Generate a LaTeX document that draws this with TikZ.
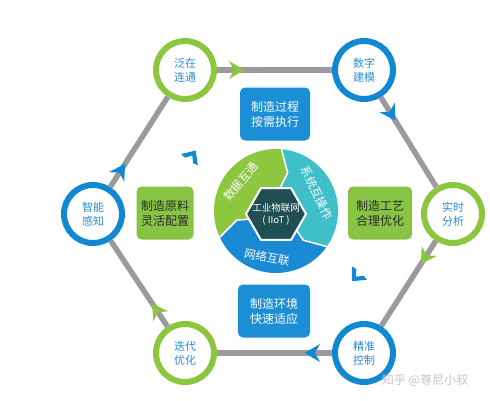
\documentclass[tikz,border=0pt]{standalone}
\usepackage{fontspec}
\setmainfont{Noto Sans CJK SC}
\usetikzlibrary{decorations.markings,calc}
\definecolor{cgreen}{HTML}{8CC63F}
\definecolor{cblue}{HTML}{1088D2}
\definecolor{cboxg}{HTML}{88C443}
\definecolor{cboxb}{HTML}{1B8ED6}
\definecolor{cteal}{HTML}{3FBFCA}
\definecolor{csegg}{HTML}{8DC63F}
\definecolor{csegb}{HTML}{1A8AD4}
\definecolor{chex}{HTML}{1F4F52}
\definecolor{cgray}{HTML}{9C9A9C}
\definecolor{ctext}{HTML}{2B8CCF}
\definecolor{cdark}{HTML}{2B2B2B}
\definecolor{cwm}{HTML}{C4C4C4}
\begin{document}
\begin{tikzpicture}[x=1pt,y=1pt,
  ring/.style={circle, minimum size=58pt, line width=6pt, fill=white, align=center,
    font=\fontsize{11}{14}\selectfont, text=ctext, inner sep=0pt},
  gring/.style={ring, draw=cgreen},
  bring/.style={ring, draw=cblue},
  boxbase/.style={rounded corners=5pt, align=center, font=\fontsize{12}{15}\selectfont,
    inner sep=0pt, minimum height=53pt},
  gbox/.style={boxbase, fill=cboxg, text=cdark},
  bbox/.style={boxbase, fill=cboxb, text=white},
  link/.style={draw=cgray, line width=5.5pt},
  chevg/.style={postaction={decorate, decoration={markings, mark=at position 19pt with
    {\fill[cgreen] (8.5,0) -- (-7,9) -- (-2,0) -- (-7,-9) -- cycle;}}}},
  chevb/.style={postaction={decorate, decoration={markings, mark=at position 19pt with
    {\fill[cblue] (8.5,0) -- (-7,9) -- (-2,0) -- (-7,-9) -- cycle;}}}},
  segtext/.style={text=white, font=\fontsize{11.5}{13}\selectfont, inner sep=0pt},
  seg/.style={draw=white, line width=1.5pt}
]
\useasboundingbox (0,0) rectangle (490,400);

% outer circles
\node[gring] (A) at (185,330) {泛在\\连通};
\node[bring] (B) at (364,330) {数字\\建模};
\node[gring] (C) at (453,186) {实时\\分析};
\node[bring] (D) at (364,47) {精准\\控制};
\node[gring] (E) at (185,47) {迭代\\优化};
\node[bring] (F) at (93,186) {智能\\感知};

% connectors
\draw[link, chevg] (A) -- (B);
\draw[link, chevb] (B) -- (C);
\draw[link, chevg] (C) -- (D);
\draw[link, chevb] (D) -- (E);
\draw[link, chevg] (E) -- (F);
\draw[link, chevb] (F) -- (A);

% boxes
\node[bbox, minimum width=70pt] (P) at (275,286) {制造过程\\按需执行};
\node[gbox, minimum width=64pt] (Q) at (380,187) {制造工艺\\合理优化};
\node[gbox, minimum width=57pt] (R) at (165,187) {制造原料\\灵活配置};
\node[bbox, minimum width=72pt] (S) at (274,89) {制造环境\\快速适应};

% central cycle
\begin{scope}[shift={(276,189)}]
  \fill[csegg] (205:62) arc[start angle=205, end angle=85, radius=62] -- (73:40) -- (85:18)
     arc[start angle=85, end angle=205, radius=18] -- (193:40) -- cycle;
  \fill[cteal] (85:62) arc[start angle=85, end angle=-35, radius=62] -- (-47:40) -- (-35:18)
     arc[start angle=-35, end angle=85, radius=18] -- (73:40) -- cycle;
  \fill[csegb] (-35:62) arc[start angle=-35, end angle=-155, radius=62] -- (-167:40) -- (-155:18)
     arc[start angle=-155, end angle=-35, radius=18] -- (-47:40) -- cycle;
  \draw[seg] (85:62) -- (73:40) -- (85:18);
  \draw[seg] (-35:62) -- (-47:40) -- (-35:18);
  \draw[seg] (205:62) -- (193:40) -- (205:18);
  \node[segtext, rotate=50] (T1) at (140:46) {数据互通};
  \node[segtext, rotate=-64] (T2) at (24:45) {系统互操作};
  \node[segtext, rotate=-11] (T3) at (-101:47) {网络互联};
\end{scope}

% hexagon
\begin{scope}[shift={(276,186)}]
  \draw[fill=chex, draw=white, line width=2pt]
    (0:30) -- (60:30) -- (120:30) -- (180:30) -- (240:30) -- (300:30) -- cycle;
\end{scope}
\node[text=white, align=center, font=\fontsize{9.5}{12}\selectfont, inner sep=0pt] (H)
  at (276,186) {工业物联网\\( IIoT )};

% inner rotation chevrons
\begin{scope}[shift={(194,247)}, rotate=56]
  \fill[cblue] (3,0) -- (-8,10) -- (-9,5) -- (-3,0) -- (-9,-5) -- (-8,-10) -- cycle;
\end{scope}
\begin{scope}[shift={(354,121)}, rotate=-132]
  \fill[cblue] (3,0) -- (-8,10) -- (-9,5) -- (-3,0) -- (-9,-5) -- (-8,-10) -- cycle;
\end{scope}

% watermark
\node[text=cwm, font=\fontsize{12}{14}\selectfont, inner sep=0pt] (W) at (425,20) {知乎 @尊尼小叔};
\end{tikzpicture}
\end{document}
